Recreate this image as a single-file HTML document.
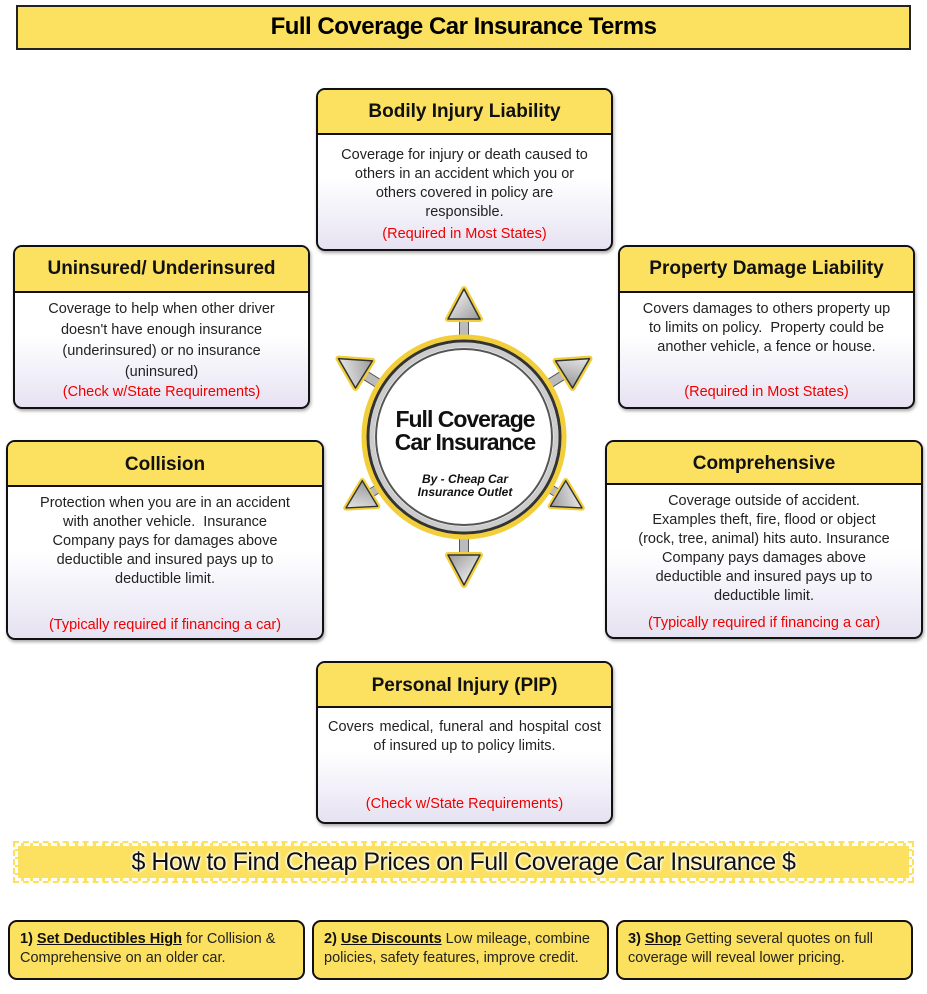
<!DOCTYPE html>
<html><head><style>
*{box-sizing:border-box;margin:0;padding:0}
body{width:927px;height:994px;background:#fff;position:relative;font-family:"Liberation Sans",sans-serif;overflow:hidden}
.box{position:absolute;border:2px solid #111;border-radius:9px;overflow:hidden;background:linear-gradient(#fff 55%,#e6e2f2);box-shadow:1px 2px 3px rgba(0,0,0,.35)}
.hd{background:#fbe15f;border-bottom:2px solid #111;font-weight:bold;font-size:19px;text-align:center;color:#111}
.bd{font-size:14.5px;line-height:19px;text-align:center;color:#222;padding:0 16px}
.red{color:#e00;font-size:14.5px;text-align:center;position:absolute;left:0;right:0}
.tip{position:absolute;top:920px;height:60px;width:297px;border:2px solid #111;border-radius:9px;background:#fbe15f;font-size:14.5px;line-height:19px;padding:8px 10px;color:#222}
.tip b{color:#111}
</style></head><body>
<div style="position:absolute;left:16px;top:5px;width:895px;height:45px;background:#fbe15f;border:2px solid #222;text-align:center;font-weight:bold;font-size:24px;line-height:40px;letter-spacing:-0.5px">Full Coverage Car Insurance Terms</div>

<div class="box" style="left:316px;top:88px;width:297px;height:163px"><div class="hd" style="height:45px;line-height:43px">Bodily Injury Liability</div><div class="bd" style="padding:11px 22px 0">Coverage for injury or death caused to others in an accident which you or others covered in policy are responsible.</div><div class="red" style="top:136px">(Required in Most States)</div></div>

<div class="box" style="left:13px;top:245px;width:297px;height:164px"><div class="hd" style="height:46px;line-height:44px">Uninsured/ Underinsured</div><div class="bd" style="padding:6px 12px 0;line-height:21px">Coverage to help when other driver doesn't have enough insurance (underinsured) or no insurance (uninsured)</div><div class="red" style="top:137px">(Check w/State Requirements)</div></div>

<div class="box" style="left:618px;top:245px;width:297px;height:164px"><div class="hd" style="height:46px;line-height:44px">Property Damage Liability</div><div class="bd" style="padding-top:7px">Covers damages to others property up to limits on policy.&nbsp; Property could be another vehicle, a fence or house.</div><div class="red" style="top:137px">(Required in Most States)</div></div>

<div class="box" style="left:6px;top:440px;width:318px;height:200px"><div class="hd" style="height:45px;line-height:45px">Collision</div><div class="bd" style="padding:7px 26px 0">Protection when you are in an accident with another vehicle.&nbsp; Insurance Company pays for damages above deductible and insured pays up to deductible limit.</div><div class="red" style="top:175px">(Typically required if financing a car)</div></div>

<div class="box" style="left:605px;top:440px;width:318px;height:199px"><div class="hd" style="height:43px;line-height:43px">Comprehensive</div><div class="bd" style="padding:7px 28px 0">Coverage outside of accident. Examples theft, fire, flood or object (rock, tree, animal) hits auto. Insurance Company pays damages above deductible and insured pays up to deductible limit.</div><div class="red" style="top:173px">(Typically required if financing a car)</div></div>

<div class="box" style="left:316px;top:661px;width:297px;height:163px"><div class="hd" style="height:45px;line-height:45px">Personal Injury (PIP)</div><div class="bd" style="padding:10px 10px 0;text-align:justify;text-align-last:center">Covers medical, funeral and hospital cost of insured up to policy limits.</div><div class="red" style="top:133px">(Check w/State Requirements)</div></div>

<svg style="position:absolute;left:320px;top:280px" width="290" height="320" viewBox="320 280 290 320">
<defs>
<linearGradient id="ag" x1="0" y1="0" x2="1" y2="1"><stop offset="0" stop-color="#fff"/><stop offset="1" stop-color="#999"/></linearGradient>
<g id="arr"><rect x="-4.5" y="-122" width="9" height="28" fill="#bbb" stroke="#555"/><polygon points="0,-148 -16,-118 16,-118" fill="url(#ag)" stroke="#f2cf3a" stroke-width="6" stroke-linejoin="round"/><polygon points="0,-148 -16,-118 16,-118" fill="url(#ag)" stroke="#333" stroke-width="1.5" stroke-linejoin="round"/></g>
</defs>
<g transform="translate(464,437)">
<use href="#arr"/>
<use href="#arr" transform="rotate(58)"/>
<use href="#arr" transform="rotate(-58)"/>
<use href="#arr" transform="rotate(121) scale(.93)"/>
<use href="#arr" transform="rotate(-121) scale(.93)"/>
<use href="#arr" transform="rotate(180)"/>
<circle r="99" fill="#fff" stroke="#f2cf3a" stroke-width="7"/>
<circle r="96" fill="none" stroke="#333" stroke-width="3"/>
<circle r="92" fill="none" stroke="#ccc" stroke-width="5"/>
<circle r="88" fill="#fff" stroke="#555" stroke-width="2"/>
<text x="1" y="-10" text-anchor="middle" font-family="Liberation Sans" font-weight="bold" font-size="23" letter-spacing="-1" fill="#111">Full Coverage</text>
<text x="1" y="13" text-anchor="middle" font-family="Liberation Sans" font-weight="bold" font-size="23" letter-spacing="-1" fill="#111">Car Insurance</text>
<text x="1" y="46" text-anchor="middle" font-family="Liberation Sans" font-weight="bold" font-style="italic" font-size="12" fill="#111">By - Cheap Car</text>
<text x="1" y="59" text-anchor="middle" font-family="Liberation Sans" font-weight="bold" font-style="italic" font-size="12" fill="#111">Insurance Outlet</text>
</g></svg>

<div style="position:absolute;left:15px;top:843px;width:897px;height:38px;background:#fbe15f;border:3px dashed #fff;outline:2px dashed #fbe15f;text-align:center;font-size:25px;line-height:33px;color:#111;letter-spacing:-0.5px;text-shadow:0 0 3px #fff,0 0 3px #fff,0 0 3px #fff">$ How to Find Cheap Prices on Full Coverage Car Insurance $</div>

<div class="tip" style="left:8px"><b>1) <u>Set Deductibles High</u></b> for Collision &amp; Comprehensive on an older car.</div>
<div class="tip" style="left:312px"><b>2) <u>Use Discounts</u></b> Low mileage, combine policies, safety features, improve credit.</div>
<div class="tip" style="left:616px"><b>3) <u>Shop</u></b> Getting several quotes on full coverage will reveal lower pricing.</div>
</body></html>
